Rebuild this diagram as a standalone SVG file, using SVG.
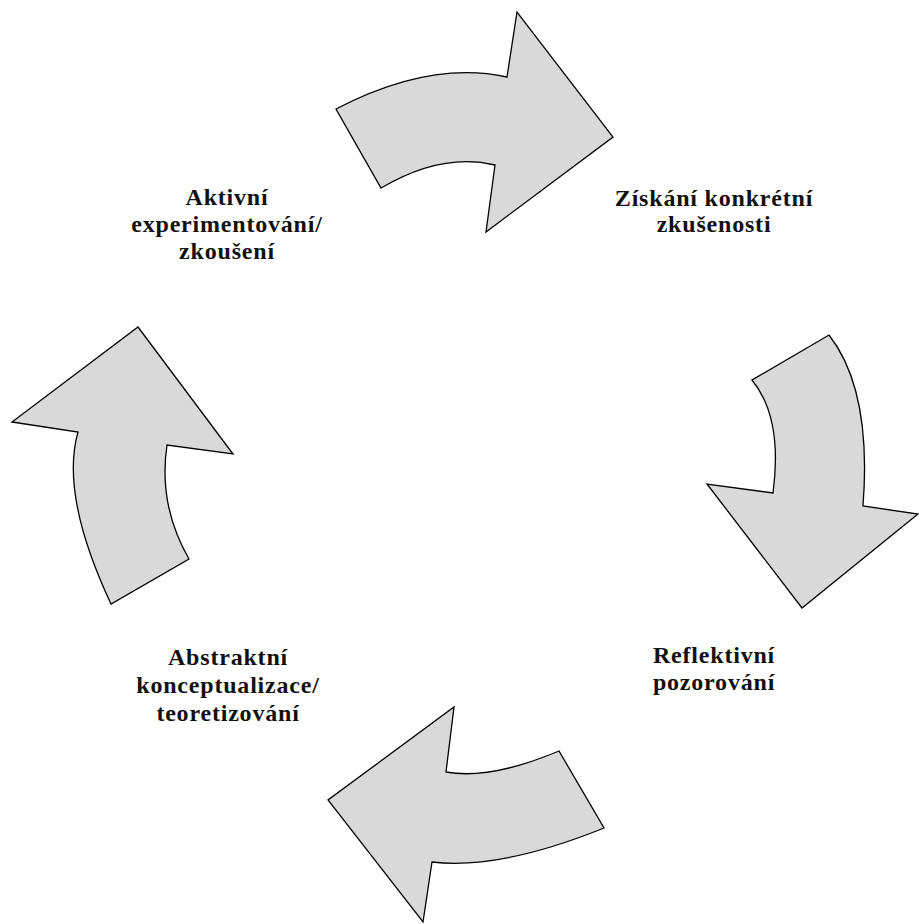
<svg xmlns="http://www.w3.org/2000/svg" width="919" height="924" viewBox="0 0 919 924">
<style>
.arrow{fill:#d9d9d9;stroke:#000;stroke-width:1.3;stroke-linejoin:miter}
.lbl{font-family:"Liberation Serif","Times New Roman",serif;font-weight:bold;font-size:24px;letter-spacing:0.8px;fill:#111;text-anchor:middle}
</style>
<rect width="919" height="924" fill="#fff"/>
<g id="connectors">
<path id="arrow-top" class="arrow" d="M336,109 Q430,60 507,77 L517,12 L613,137 L486,232 L495,165 Q442,152 381,188 Z"/>
<path id="arrow-right" class="arrow" d="M829,335 Q872,390 863,506 L918,514 L802,608 L707,484 L773,493 Q783,418 752,380 Z"/>
<path id="arrow-bottom" class="arrow" d="M604,828 Q500,870 432,862 L423,922 L328,800 L454,707 L446,772 Q490,780 559,751 Z"/>
<path id="arrow-left" class="arrow" d="M111,604 Q60,495 78,432 L12,422 L138,327 L233,454 L167,445 Q158,505 189,559 Z"/>
</g>
<g id="node-active">
<text class="lbl" x="227" y="205">Aktivní</text>
<text class="lbl" x="227" y="232">experimentování/</text>
<text class="lbl" x="227" y="259">zkoušení</text>
</g>
<g id="node-concrete">
<text class="lbl" x="714" y="206">Získání konkrétní</text>
<text class="lbl" x="714" y="232">zkušenosti</text>
</g>
<g id="node-reflective">
<text class="lbl" x="714" y="663">Reflektivní</text>
<text class="lbl" x="714" y="690">pozorování</text>
</g>
<g id="node-abstract">
<text class="lbl" x="228" y="665">Abstraktní</text>
<text class="lbl" x="228" y="693">konceptualizace/</text>
<text class="lbl" x="228" y="721">teoretizování</text>
</g>
</svg>
